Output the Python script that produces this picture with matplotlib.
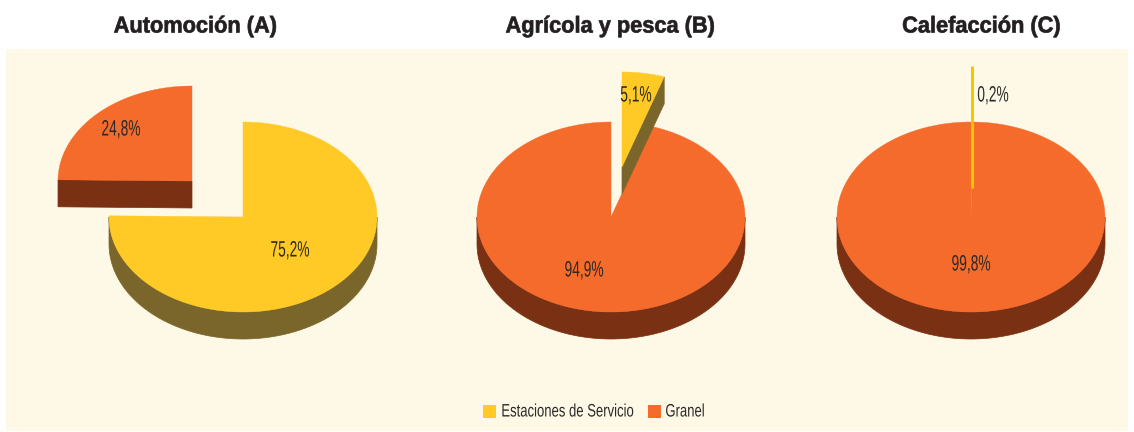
import matplotlib
matplotlib.use('Agg')
import matplotlib.pyplot as plt
from matplotlib.patches import Polygon, Rectangle
from matplotlib.patheffects import AbstractPathEffect
from matplotlib.transforms import Affine2D
import numpy as np

titles = ['Automoción (A)', 'Agrícola y pesca (B)', 'Calefacción (C)']
series = ['Estaciones de Servicio', 'Granel']
estaciones = [75.2, 5.1, 0.2]
granel = [24.8, 94.9, 99.8]

# layout, in pixels
centers = [(243, 217), (611, 217), (971, 217)]
title_x = [195, 610, 981]
explode = [[(0, 0), (-51, -36)], [(11, -50), (0, 0)], [(0, -56), (0, 0)]]
label_pos = [[(290, 251), (121, 130)], [(636, 96), (584, 271)], [(993, 96), (971, 265)]]
legend_x = [(483, 567.5), (648, 685)]
rx, ry, depth = 134, 95, 27

YELLOW, ORANGE = '#ffc926', '#f46b2b'
YELLOW_D, ORANGE_D = '#7a652b', '#7a3013'
BG = '#fef8e7'
INK = '#2b2a28'


class Squeeze(AbstractPathEffect):
    # no condensed font installed, so narrow the glyphs around x0
    def __init__(self, sx, x0, stroke=0):
        super().__init__()
        self.sx, self.x0, self.stroke = sx, x0, stroke

    def draw_path(self, renderer, gc, tpath, affine, rgbFace=None):
        t = affine + Affine2D().translate(-self.x0, 0).scale(self.sx, 1).translate(self.x0, 0)
        gc0 = renderer.new_gc()
        gc0.copy_properties(gc)
        gc0.set_linewidth(self.stroke)
        if self.stroke:
            gc0.set_foreground(rgbFace)
        renderer.draw_path(gc0, tpath, t, rgbFace)
        gc0.restore()


def arc(cx, cy, t0, t1):
    # angles clockwise from 12 o'clock, squashed to the pie's tilt
    t = np.radians(np.linspace(t0, t1, max(int(t1 - t0), 2) + 1))
    return np.column_stack([cx + rx * np.sin(t), cy - ry * np.cos(t)])


def slice3d(ax, cx, cy, t0, t1, color, dark, z):
    down = np.array([0, depth])
    tip = np.array([[cx, cy]])
    # outer wall, only the front half shows
    lo, hi = max(t0, 90), min(t1, 270)
    if hi > lo:
        a = arc(cx, cy, lo, hi)
        ax.add_patch(Polygon(np.vstack([a, a[::-1] + down]), fc=dark, ec=dark, lw=0.5, zorder=z))
    # cut faces that look towards the viewer
    for t, vis in ((t0, np.sin(np.radians(t0)) < -1e-6), (t1, np.sin(np.radians(t1)) > 1e-6)):
        if vis:
            e = arc(cx, cy, t, t + 1)[:1]
            ax.add_patch(Polygon(np.vstack([tip, e, e + down, tip + down]), fc=dark, ec=dark, lw=0.5, zorder=z))
    ax.add_patch(Polygon(np.vstack([tip, arc(cx, cy, t0, t1)]), fc=color, ec=color, lw=0.3, zorder=z + 1))


fig = plt.figure(figsize=(11.34, 4.32), dpi=100)
ax = fig.add_axes([0, 0, 1, 1])
ax.set_xlim(0, 1134)
ax.set_ylim(432, 0)
ax.axis('off')
ax.add_patch(Rectangle((6, 49), 1122, 382, fc=BG, ec='none', zorder=0))

for i in range(3):
    cx, cy = centers[i]
    ang = estaciones[i] * 3.6
    (ex1, ey1), (ex2, ey2) = explode[i]
    slice3d(ax, cx + ex2, cy + ey2, ang, 360, ORANGE, ORANGE_D, 2)
    if estaciones[i] < 1:
        # the thin sliver: keep it readable as a yellow stick
        ax.plot([cx + ex1 + 1, cx + ex1 + 1], [cy + ey1 - ry, cy + ey1 + depth], color='#f7c600', lw=2.2,
                solid_capstyle='butt', zorder=5)
    else:
        slice3d(ax, cx + ex1, cy + ey1, 0, ang, YELLOW, YELLOW_D, 4)
    ax.text(title_x[i], 26, titles[i], ha='center', va='center', fontsize=16.5, fontweight='bold',
            family='Liberation Sans', color='#231f20',
            path_effects=[Squeeze(0.95, title_x[i], stroke=0.5)])
    for (lx, ly), v in zip(label_pos[i], (estaciones[i], granel[i])):
        ax.text(lx, ly, f'{v:.1f}%'.replace('.', ','), ha='center', va='center', fontsize=16,
                family='Liberation Sans', color=INK, zorder=8, path_effects=[Squeeze(0.62, lx)])

for name, color, (bx, tx) in zip(series, (YELLOW, ORANGE), legend_x):
    ax.add_patch(Rectangle((bx, 405), 13, 13, fc=color, ec='none', zorder=3))
    ax.text(tx, 412, name, ha='center', va='center', fontsize=13, family='Liberation Sans', color=INK,
            zorder=4, path_effects=[Squeeze(0.725, tx)])

fig.savefig('out.png', dpi=100, facecolor='white')
